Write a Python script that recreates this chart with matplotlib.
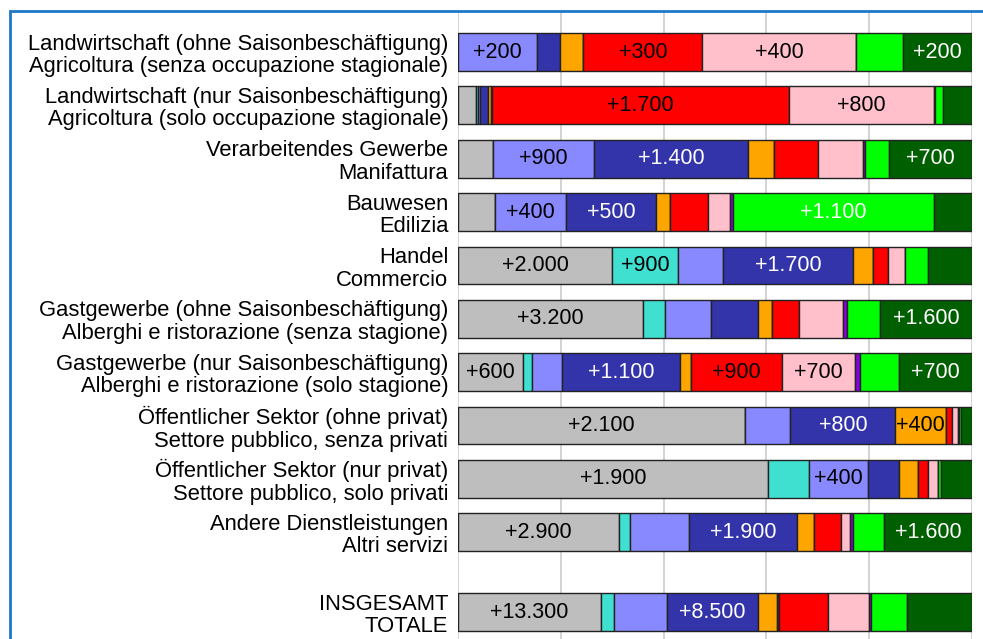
import matplotlib
matplotlib.use("Agg")
import matplotlib.pyplot as plt
from matplotlib.patches import Rectangle
import numpy as np

plt.rcParams['font.family'] = ['Liberation Sans', 'DejaVu Sans']

categories = [
    "Landwirtschaft (ohne Saisonbeschäftigung)\nAgricoltura (senza occupazione stagionale)",
    "Landwirtschaft (nur Saisonbeschäftigung)\nAgricoltura (solo occupazione stagionale)",
    "Verarbeitendes Gewerbe\nManifattura",
    "Bauwesen\nEdilizia",
    "Handel\nCommercio",
    "Gastgewerbe (ohne Saisonbeschäftigung)\nAlberghi e ristorazione (senza stagione)",
    "Gastgewerbe (nur Saisonbeschäftigung)\nAlberghi e ristorazione (solo stagione)",
    "Öffentlicher Sektor (ohne privat)\nSettore pubblico, senza privati",
    "Öffentlicher Sektor (nur privat)\nSettore pubblico, solo privati",
    "Andere Dienstleistungen\nAltri servizi",
    "INSGESAMT\nTOTALE",
]

# row positions (gap before the total row)
positions = [0, 1, 2, 3, 4, 5, 6, 7, 8, 9, 10.5]

series_colors = ['#BEBEBE', '#40E0D0', '#8888FF', '#3333AA', '#FFA500', '#990000',
                 '#FF0000', '#FFC0CB', '#8800DD', '#00FF00', '#005F00']
text_colors = ['black', 'black', 'black', 'white', 'black', 'white',
               'black', 'black', 'white', 'white', 'white']

# values per series, one entry per category (same order as categories)
s_gray     = [0,   102,  310,  207, 2020, 3200,  620, 2140, 1910, 2880, 13300]
s_turq     = [0,    13,    0,    0,  870,  390,   86,    0,  254,  195,  1190]
s_lblue    = [205,  12,  900,  395,  590,  790,  280,  333,  362, 1050,  4930]
s_dblue    = [60,   42, 1370,  498, 1700,  820, 1120,  783,  190, 1940,  8500]
s_orange   = [62,   19,  230,   81,  260,  240,  105,  375,  119,  310,  1790]
s_darkred  = [0,     5,    0,    0,    0,    0,    0,    0,    0,    0,   110]
s_red      = [310, 1685,  390,  210,  205,  470,  860,   43,   64,  470,  4580]
s_pink     = [400,  822,  400,  122,  215,  760,  695,   45,   58,  175,  3830]
s_purple   = [0,     8,   15,   19,    0,   70,   48,   12,    0,   55,   220]
s_green    = [123,  40,  215, 1120,  300,  575,  370,   12,   19,  540,  3330]
s_dgreen   = [180, 167,  735,  210,  580, 1590,  695,   83,  193, 1580,  6030]

series = [s_gray, s_turq, s_lblue, s_dblue, s_orange, s_darkred,
          s_red, s_pink, s_purple, s_green, s_dgreen]

data = np.array(series, dtype=float)
totals = data.sum(axis=0)
pct = data / totals * 100.0

W, H = 983, 639
fig = plt.figure(figsize=(W / 100, H / 100), dpi=100)
ax = fig.add_axes([458 / W, 0.0, (972 - 458) / W, 1 - 12 / H])

ax.set_xlim(0, 100)
ax.set_ylim(11.0, -0.75)

for xg in [0, 20, 40, 60, 80, 100]:
    ax.axvline(xg, color='#CCCCCC', lw=1.2, zorder=0)

bar_h = 0.71
left = np.zeros(len(categories))
label_info = []
for i, (vals, col, tcol) in enumerate(zip(series, series_colors, text_colors)):
    p = pct[i]
    ax.barh(positions, p, left=left, height=bar_h, color=col,
            edgecolor='#222222', linewidth=1.0, zorder=2)
    for j in range(len(categories)):
        if vals[j] > 0:
            label_info.append((left[j], p[j], positions[j], vals[j], tcol))
    left = left + p

ax.set_yticks(positions)
ax.set_yticklabels(categories, fontsize=15.8, linespacing=1.1)
for t in ax.get_yticklabels():
    t.set_multialignment('right')
ax.tick_params(axis='y', length=0, pad=7)
ax.tick_params(axis='x', length=0, labelbottom=False)
for sp in ax.spines.values():
    sp.set_visible(False)

fig.canvas.draw()
renderer = fig.canvas.get_renderer()
for (l, w, y, v, tcol) in label_info:
    r = int(v / 100 + 0.5) * 100
    txt = "+" + f"{r:,}".replace(",", ".")
    t = ax.text(l + w / 2, y, txt, ha='center', va='center', fontsize=15.5,
                color=tcol, zorder=3)
    bb = t.get_window_extent(renderer)
    x0 = ax.transData.transform((l, y))[0]
    x1 = ax.transData.transform((l + w, y))[0]
    if bb.width + 1 > (x1 - x0):
        t.remove()

# blue frame (cropped on right and bottom)
frame = Rectangle((9.5 / W, -0.1), 2.0, 1.1 - 11.5 / H, transform=fig.transFigure,
                  fill=False, edgecolor='#1E78C8', linewidth=2.0, zorder=10,
                  clip_on=False)
fig.patches.append(frame)

fig.savefig('out.png', dpi=100)
